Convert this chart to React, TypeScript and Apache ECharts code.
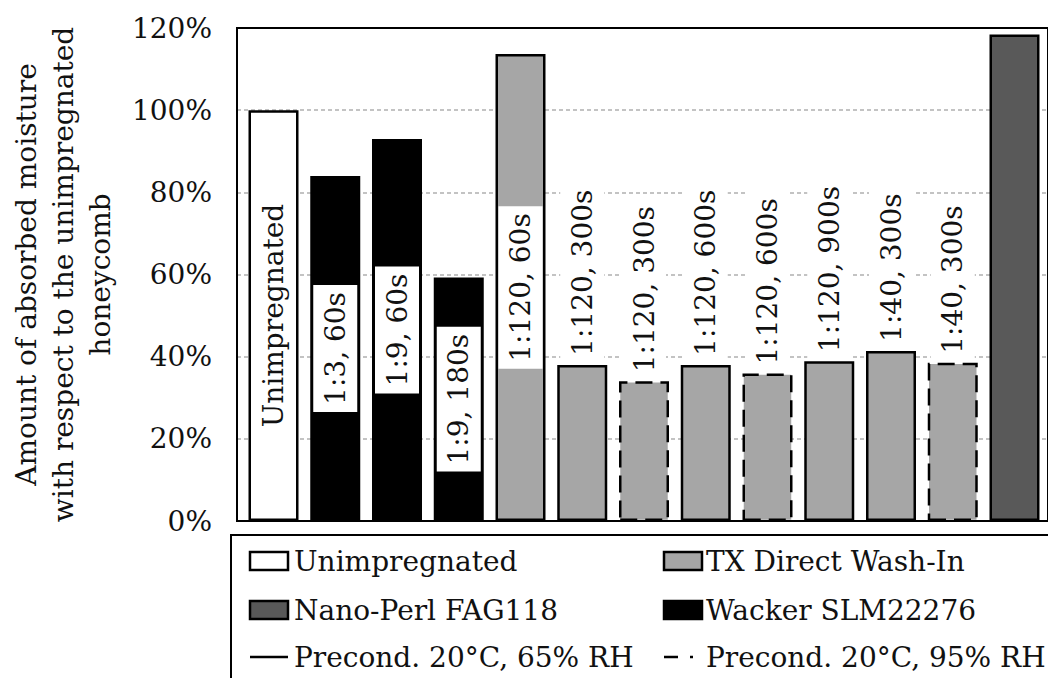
import React, { useEffect, useRef } from 'react';
import * as echarts from 'echarts';

// ---- data ----
const barLabels = [
  'Unimpregnated', '1:3, 60s', '1:9, 60s', '1:9, 180s', '1:120, 60s',
  '1:120, 300s', '1:120, 300s', '1:120, 600s', '1:120, 600s', '1:120, 900s',
  '1:40, 300s', '1:40, 300s', '',
];
const values = [100, 84, 93, 59.3, 113.7, 38.0, 34.0, 38.0, 35.9, 38.9, 41.4, 38.5, 118.4];
const products = [0, 3, 3, 3, 1, 1, 1, 1, 1, 1, 1, 1, 2]; // index into productNames
const humidity = [65, 65, 65, 65, 65, 65, 95, 65, 95, 65, 65, 95, 65];
const productNames = ['Unimpregnated', 'TX Direct Wash-In', 'Nano-Perl FAG118', 'Wacker SLM22276'];
const productColors = ['#ffffff', '#a6a6a6', '#595959', '#000000'];
const precondNames = ['Precond. 20°C, 65% RH', 'Precond. 20°C, 95% RH'];
const yTicks = { min: 0, max: 120, step: 20 };
const yAxisName = ['Amount of absorbed moisture', 'with respect to the unimpregnated', 'honeycomb'];

const FONT = 'DejaVu Serif';
const FS = 28;
const TXT = '#111111';

export default function App() {
  const ref = useRef<HTMLDivElement>(null);
  useEffect(() => {
    if (!ref.current) return;
    const chart = echarts.init(ref.current, undefined, { renderer: 'svg' });

    const data = values.map((v, i) => {
      const dashed = humidity[i] === 95;
      const inside = v > 50;
      const lab = barLabels[i];
      return {
        value: v,
        itemStyle: {
          color: productColors[products[i]],
          borderColor: '#000',
          borderWidth: 2.5,
          borderType: dashed ? [17, 8] : 'solid',
        },
        label: {
          show: lab !== '',
          formatter: lab,
          rotate: 90,
          position: inside ? 'inside' : 'top',
          distance: 2,
          align: inside ? 'center' : 'left',
          verticalAlign: 'middle',
          backgroundColor: '#ffffff',
          padding: [4, 7],
          lineHeight: 36,
          fontSize: FS,
          fontFamily: FONT,
          color: TXT,
        },
      };
    });

    // legend built from the arrays
    const legendEls: any[] = [];
    legendEls.push({
      type: 'rect', shape: { x: 231, y: 535, width: 900, height: 200 },
      style: { fill: 'none', stroke: '#000', lineWidth: 2 }, z: 10,
    });
    const colX = [250, 664];
    const textX = [294, 706];
    const rowY = [561, 610, 657];
    const order = [0, 1, 2, 3];
    order.forEach((p, k) => {
      const r = Math.floor(k / 2), c = k % 2;
      legendEls.push({
        type: 'rect', shape: { x: colX[c], y: rowY[r] - 9, width: 38, height: 18 },
        style: { fill: productColors[p], stroke: '#000', lineWidth: 2.5 }, z: 10,
      });
      legendEls.push({
        type: 'text', x: textX[c], y: rowY[r],
        style: { text: productNames[p], fontSize: FS, fontFamily: FONT, fill: TXT, verticalAlign: 'middle', align: 'left' }, z: 10,
      });
    });
    precondNames.forEach((name, c) => {
      legendEls.push({
        type: 'line', shape: { x1: colX[c], y1: rowY[2], x2: colX[c] + (c === 0 ? 38 : 29), y2: rowY[2] },
        style: { stroke: '#000', lineWidth: 2.5, lineDash: c === 0 ? null : [14, 12] }, z: 10,
      });
      legendEls.push({
        type: 'text', x: textX[c], y: rowY[2],
        style: { text: name, fontSize: FS, fontFamily: FONT, fill: TXT, verticalAlign: 'middle', align: 'left' }, z: 10,
      });
    });

    const top = 28, height = 493;
    const band = 61.75;
    const firstCenter = 273.5;

    chart.setOption({
      animation: false,
      backgroundColor: '#ffffff',
      grid: [
        { left: 230, top, width: 828, height, show: true, borderColor: '#000', borderWidth: 2, backgroundColor: 'transparent', z: 5 },
        { left: firstCenter - band / 2, top, width: band * values.length, height },
      ],
      xAxis: [
        { type: 'value', gridIndex: 0, min: 0, max: 1, show: false },
        { type: 'category', gridIndex: 1, data: barLabels.map((l, i) => `${i}:${l}`), show: false, boundaryGap: true },
      ],
      yAxis: [
        {
          type: 'value', gridIndex: 0, min: yTicks.min, max: yTicks.max, interval: yTicks.step,
          name: yAxisName.join('\n'), nameLocation: 'middle', nameRotate: 90, nameGap: 118,
          nameTextStyle: { fontSize: FS, fontFamily: FONT, color: TXT, lineHeight: 37, align: 'center' },
          axisLine: { show: false }, axisTick: { show: false },
          axisLabel: { formatter: (v: number) => `${v}%`, fontSize: FS, fontFamily: FONT, color: TXT, margin: 25 },
          splitLine: { show: true, showMinLine: false, showMaxLine: false, lineStyle: { color: '#b0b0b0', width: 1.5, type: [4, 3] } },
        },
        { type: 'value', gridIndex: 1, min: yTicks.min, max: yTicks.max, show: false, splitLine: { show: false } },
      ],
      series: [{
        type: 'bar', xAxisIndex: 1, yAxisIndex: 1, barWidth: 50, data,
      }],
      graphic: legendEls,
    });
    return () => chart.dispose();
  }, []);
  return <div ref={ref} style={{ position: 'absolute', left: 0, top: 0, width: 1048, height: 678 }} />;
}
